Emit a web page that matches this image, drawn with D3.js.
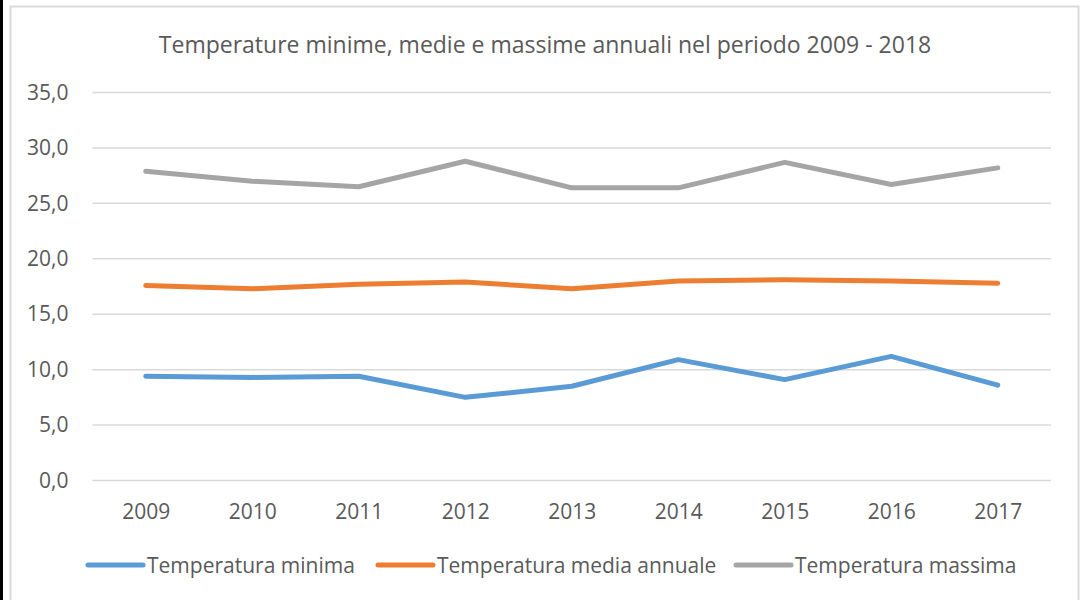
<!DOCTYPE html>
<html>
<head>
<meta charset="utf-8">
<script src="https://cdn.jsdelivr.net/npm/d3@7"></script>
<style>
  body { margin: 0; background: #fff; }
  svg { display: block; font-family: "Open Sans", "Noto Sans", sans-serif; }
</style>
</head>
<body>
<svg id="chart"></svg>
<script>
const years = ["2009", "2010", "2011", "2012", "2013", "2014", "2015", "2016", "2017"];
const tempMin = [9.4, 9.3, 9.4, 7.5, 8.5, 10.9, 9.1, 11.2, 8.6];
const tempMedia = [17.6, 17.3, 17.7, 17.9, 17.3, 18.0, 18.1, 18.0, 17.8];
const tempMax = [27.9, 27.0, 26.5, 28.8, 26.4, 26.4, 28.7, 26.7, 28.2];
const yTicks = [0, 5, 10, 15, 20, 25, 30, 35];

const seriesNames = ["Temperatura minima", "Temperatura media annuale", "Temperatura massima"];
const seriesColors = ["#5B9BD5", "#ED7D31", "#A5A5A5"];
const seriesValues = [tempMin, tempMedia, tempMax];

const width = 1080, height = 600;
const margin = { top: 92.5, right: 29, bottom: 119.5, left: 92.5 };

const svg = d3.select("#chart")
    .attr("width", width)
    .attr("height", height);

// left dark strip and chart frame
svg.append("rect").attr("x", 0).attr("y", 0).attr("width", 3).attr("height", height).attr("fill", "#000");
svg.append("rect")
    .attr("x", 10.5).attr("y", 6.5)
    .attr("width", 1068).attr("height", 620)
    .attr("fill", "#fff")
    .attr("stroke", "#d9d9d9")
    .attr("stroke-width", 2);

const xScale = d3.scalePoint()
    .domain(years)
    .range([margin.left, width - margin.right])
    .padding(0.5);

const yScale = d3.scaleLinear()
    .domain([0, 35])
    .range([height - margin.bottom, margin.top]);

// gridlines
svg.append("g")
    .selectAll("line")
    .data(yTicks)
    .join("line")
    .attr("x1", margin.left)
    .attr("x2", width - margin.right)
    .attr("y1", d => yScale(d))
    .attr("y2", d => yScale(d))
    .attr("stroke", "#d9d9d9")
    .attr("stroke-width", 1.5);

// y axis labels
const yAxis = svg.append("g")
    .attr("transform", `translate(${margin.left - 21}, 0)`)
    .call(d3.axisLeft(yScale).tickValues(yTicks).tickSize(0).tickFormat(d => d3.format(".1f")(d).replace(".", ",")));
yAxis.select(".domain").remove();
yAxis.selectAll("text")
    .attr("fill", "#595959")
    .attr("font-size", 21)
    .attr("font-family", "Open Sans");

// x axis labels
const xAxis = svg.append("g")
    .attr("transform", `translate(0, ${height - margin.bottom + 21})`)
    .call(d3.axisBottom(xScale).tickSize(0));
xAxis.select(".domain").remove();
xAxis.selectAll("text")
    .attr("fill", "#595959")
    .attr("font-size", 21)
    .attr("font-family", "Open Sans");

// lines
const line = d3.line()
    .x((d, i) => xScale(years[i]))
    .y(d => yScale(d));

svg.append("g")
    .selectAll("path")
    .data(seriesValues)
    .join("path")
    .attr("fill", "none")
    .attr("stroke", (d, i) => seriesColors[i])
    .attr("stroke-width", 5)
    .attr("stroke-linejoin", "round")
    .attr("stroke-linecap", "round")
    .attr("d", line);

// title
svg.append("text")
    .attr("x", 545)
    .attr("y", 53)
    .attr("text-anchor", "middle")
    .attr("fill", "#595959")
    .attr("font-size", 23)
    .text("Temperature minime, medie e massime annuali nel periodo 2009 - 2018");

// legend
const legendX = [88, 378, 736];
const legend = svg.append("g")
    .selectAll("g")
    .data(seriesNames)
    .join("g")
    .attr("transform", (d, i) => `translate(${legendX[i]}, 565)`);

legend.append("line")
    .attr("x1", 0).attr("x2", 55)
    .attr("stroke", (d, i) => seriesColors[i])
    .attr("stroke-width", 5)
    .attr("stroke-linecap", "round");

legend.append("text")
    .attr("x", 59)
    .attr("y", 7.5)
    .attr("fill", "#595959")
    .attr("font-size", 21)
    .text(d => d);
</script>
</body>
</html>
